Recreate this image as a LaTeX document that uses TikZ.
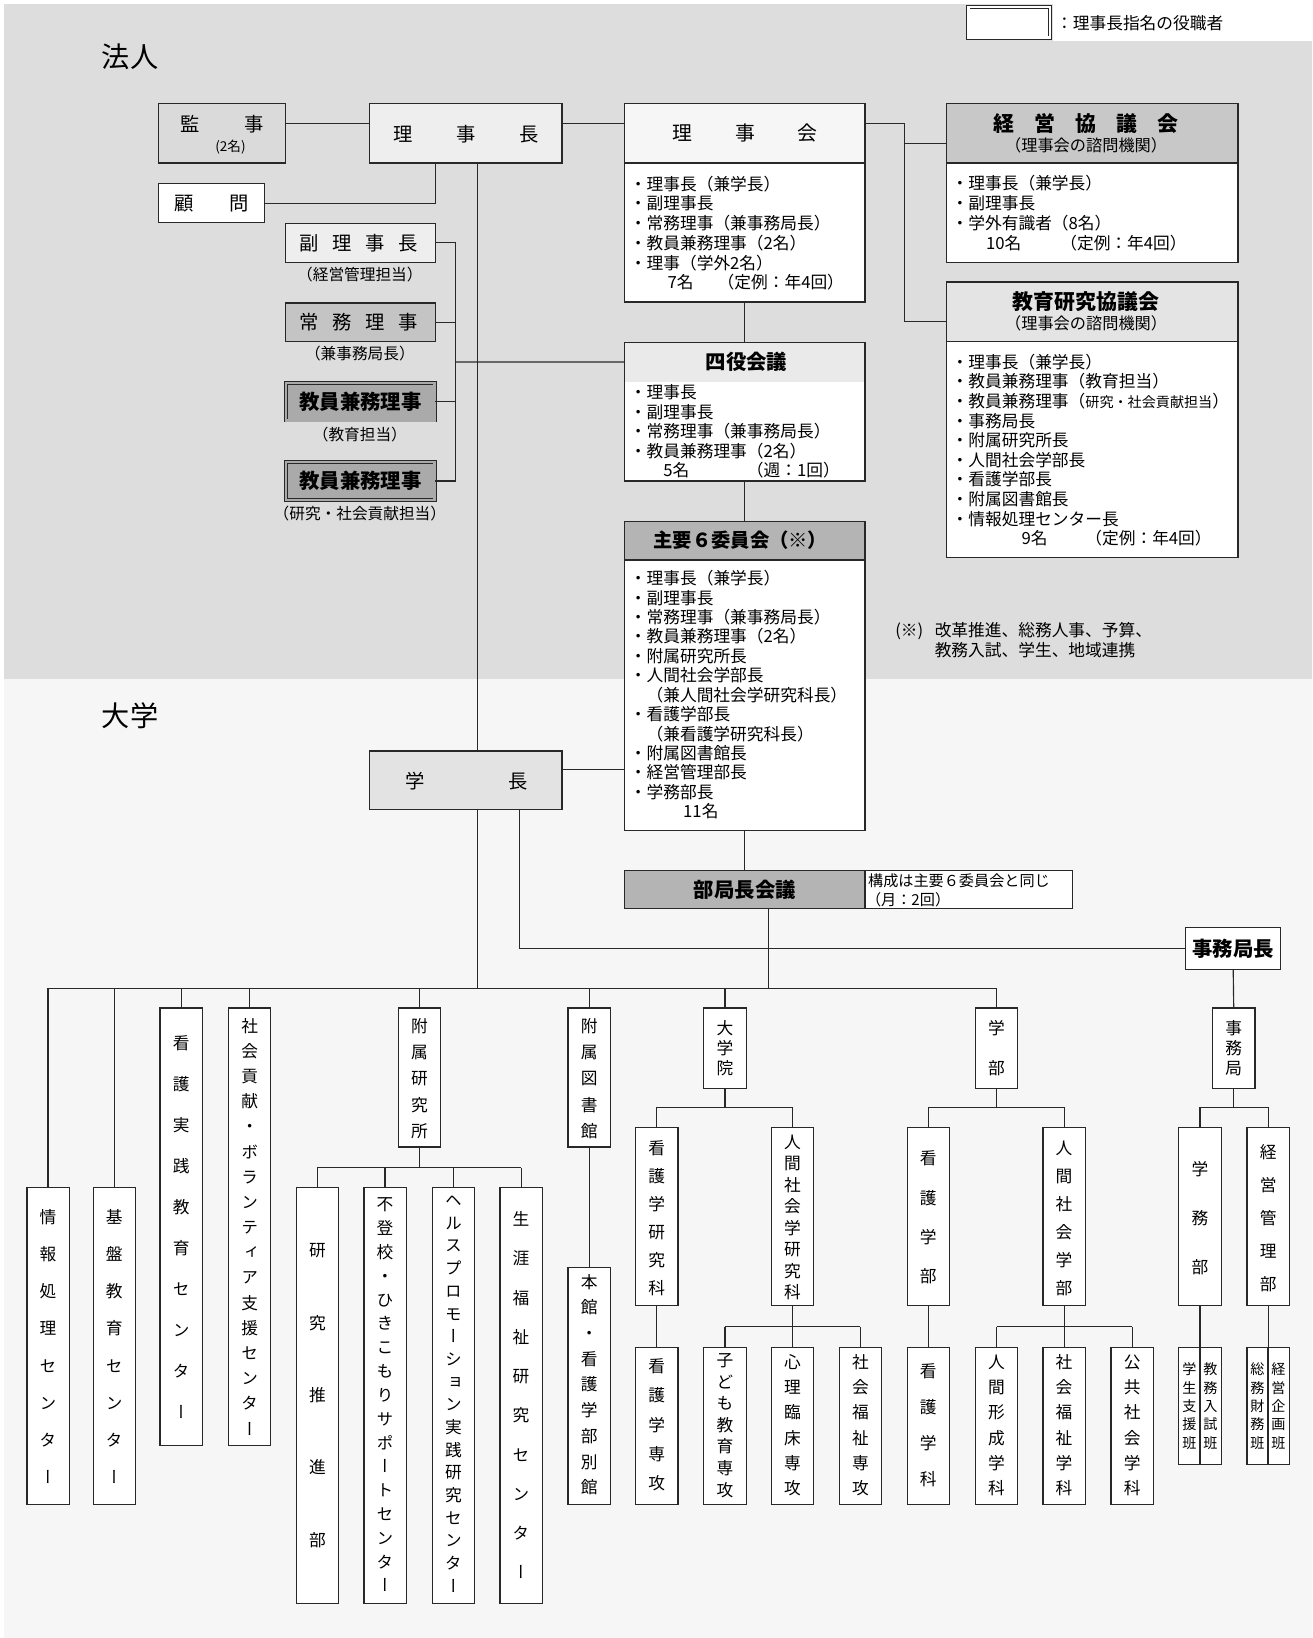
\documentclass[tikz,border=0pt]{standalone}
\usepackage{fontspec}
\setmainfont{Noto Sans CJK JP}
\newfontfamily\jpv[RawFeature=+vert]{Noto Sans CJK JP}
\usetikzlibrary{calc}
\definecolor{bgtop}{RGB}{220,221,220}
\definecolor{bgbot}{RGB}{245,246,245}
\definecolor{linec}{RGB}{40,40,40}
\definecolor{fkanji}{RGB}{218,218,218}
\definecolor{frijicho}{RGB}{238,238,238}
\definecolor{ffuku}{RGB}{238,238,238}
\definecolor{fjomu}{RGB}{196,196,196}
\definecolor{fkyoin}{RGB}{170,170,170}
\definecolor{frijikai}{RGB}{246,246,246}
\definecolor{fkeiei}{RGB}{200,200,200}
\definecolor{fkyoiku}{RGB}{228,228,228}
\definecolor{fyon}{RGB}{234,234,234}
\definecolor{fshuyo}{RGB}{180,180,180}
\definecolor{fgakucho}{RGB}{227,227,227}
\newcounter{tn}
\newcommand\fz[1]{\fontsize{#1pt}{#1pt}\selectfont}
\tikzset{
  box/.style={draw=linec,line width=1.2pt,inner sep=0pt,outer sep=0pt,rectangle},
  dbl/.style={box,line width=0.75pt,double=#1,double distance=2.2pt},
  conn/.style={draw=linec,line width=1.1pt},
  txt/.style={inner sep=0pt,outer sep=0pt,font=\fz{#1},text height={0.88*#1pt},text depth={0.12*#1pt}},
  btxt/.style={txt=#1,font=\bfseries\fz{#1}},
  vtxt/.style={txt=#1,font=\jpv\fz{#1}},
}
\newcommand\mkbox[6]{\node[#6,minimum width={(#4-#2)*1pt},minimum height={(#5-#3)*1pt}] (#1) at ({(#2+#4)/2},{(#3+#5)/2}) {};}
\newcommand\vbx[4]{\node[box,fill=white,minimum width=40.5pt,minimum height={(#4-#3)*1pt}] (#1) at (#2,{(#3+#4)/2}) {};}
\newcommand\tline[5][txt]{\stepcounter{tn}\node[#1=#2,anchor=west] (t\arabic{tn}) at (#3,#4) {#5};}
\newcommand\tcen[5][txt]{\stepcounter{tn}\node[#1=#2] (t\arabic{tn}) at (#3,#4) {#5};}
\newcommand\vcol[5][16]{\foreach \vch [count=\nn from 0] in {#5} {\stepcounter{tn}\node[vtxt=#1] (t\arabic{tn}) at (#2,{#3+\nn*#4}) {\vch};}}
\newcommand\mktree[5]{%
  \draw[conn] (#1.south) -- (#1.south |- 0,#2);
  \draw[conn] (#3.north |- 0,#2) -- (#4.north |- 0,#2);
  \foreach \chn in {#5} {\draw[conn] (\chn.north) -- (\chn.north |- 0,#2);}
}
\begin{document}
\begin{tikzpicture}[x=1pt,y=-1pt]
\useasboundingbox (0,0) rectangle (1256,1568);
% backgrounds
\fill[white] (0,0) rectangle (1256,1568);
\fill[bgtop] (4,4) rectangle (1256,650);
\fill[bgbot] (4,650) rectangle (1256,1568);
\fill[white] (1008,0) rectangle (1256,39);

% legend
\mkbox{legend}{927}{7}{1005}{36}{dbl=white,fill=white}
\tline{16}{1011}{22}{：理事長指名の役職者}

\tcen{27}{124.5}{54}{法人}
\tcen{27}{124.5}{685}{大学}

% upper boxes
\mkbox{kanji}{152}{99}{273}{156}{box,fill=fkanji}
\mkbox{rijicho}{354}{99}{538}{156}{box,fill=frijicho}
\mkbox{komon}{152}{176}{253}{213}{box,fill=white}
\mkbox{fuku}{273}{214}{417}{251}{box,fill=ffuku}
\mkbox{jomu}{273}{290}{417}{327}{box,fill=fjomu}
\mkbox{kyoin1}{274}{366.5}{416}{402.5}{dbl=fkyoin,fill=fkyoin}
\mkbox{kyoin2}{274}{442.5}{416}{478.5}{dbl=fkyoin,fill=fkyoin}
\mkbox{rijikaiH}{598}{99}{828}{156}{box,fill=frijikai}
\mkbox{rijikaiB}{598}{156}{828}{289}{box,fill=white}
\mkbox{keieiH}{906}{99}{1185}{156}{box,fill=fkeiei}
\mkbox{keieiB}{906}{156}{1185}{251}{box,fill=white}
\mkbox{kyoikuH}{906}{270}{1185}{327}{box,fill=fkyoiku}
\mkbox{kyoikuB}{906}{327}{1185}{534}{box,fill=white}
\mkbox{yonH}{598}{327.6}{828}{365.5}{box,draw=none,fill=fyon}
\mkbox{yonB}{598}{365.5}{828}{460.5}{box,draw=none,fill=white}
\draw[box] (yonH.north west) rectangle (yonB.south east);
\mkbox{shuyoH}{598}{499}{828}{536}{box,fill=fshuyo}
\mkbox{shuyoB}{598}{536}{828}{795}{box,fill=white}
\mkbox{gakucho}{354}{719}{538}{775}{box,fill=fgakucho}
\mkbox{bukyoku}{598}{833}{828}{870}{box,fill=fshuyo}
\mkbox{bknote}{828}{833}{1027}{870}{box,fill=white}
\mkbox{jkc}{1135}{888}{1226}{928}{box,fill=white}

% lower boxes
\vbx{joho}{46}{1137}{1440}
\vbx{kiban}{109.4}{1137}{1440}
\vbx{kjissen}{173.5}{965}{1384}
\vbx{shakai}{239}{965}{1384}
\vbx{fken}{401.5}{965}{1098}
\vbx{ftosho}{564}{965}{1098}
\vbx{daigakuin}{694}{965}{1042}
\vbx{gakubu}{954}{965}{1042}
\vbx{jimukyoku}{1181}{965}{1042}
\vbx{kensuishin}{303.8}{1137}{1535}
\vbx{futoko}{368.6}{1137}{1535}
\vbx{health}{434}{1137}{1535}
\vbx{shogai}{498.8}{1137}{1535}
\vbx{honkan}{564}{1213}{1440}
\vbx{kgken}{628.7}{1079}{1250}
\vbx{nsken}{758.7}{1079}{1250}
\vbx{kangobu}{888.6}{1079}{1250}
\vbx{nsbu}{1018.6}{1079}{1250}
\vbx{gakumu}{1148.7}{1079}{1250}
\vbx{keieibu}{1213.9}{1079}{1250}
\vbx{kgsenko}{628.7}{1290}{1440}
\vbx{kodomo}{694}{1290}{1440}
\vbx{shinri}{758.7}{1290}{1440}
\vbx{fukushisenko}{823.7}{1290}{1440}
\vbx{kangoka}{888.6}{1290}{1440}
\vbx{ningen}{954}{1290}{1440}
\vbx{fukushika}{1018.6}{1290}{1440}
\vbx{kokyo}{1083.8}{1290}{1440}
\vbx{gakumuS}{1148.7}{1290}{1402}
\vbx{keieiS}{1213.9}{1290}{1402}
\draw[box] (gakumuS.north) -- (gakumuS.south);
\draw[box] (keieiS.north) -- (keieiS.south);

% connectors (upper)
\draw[conn] (kanji.east |- 0,118) -- (rijicho.west |- 0,118);
\draw[conn] (rijicho.east |- 0,118) -- (rijikaiH.west |- 0,118);
\draw[conn] (rijicho.south -| 417,0) |- (komon.east);
\draw[conn] (rijicho.south -| 457,0) -- (gakucho.north -| 457,0);
\coordinate (barL) at (46,946);
\coordinate (barR) at (954,946);
\draw[conn] (gakucho.south -| 457,0) -- (barL -| 457,0);
\draw[conn] (barL) -- (barR);
\draw[conn] (fuku.east) -| (436,460.5) -- (kyoin2.east);
\draw[conn] (jomu.east) -- (jomu.east -| 436,0);
\draw[conn] (kyoin1.east) -- (kyoin1.east -| 436,0);
\draw[conn] (436,346.5) -- (yonH.west);
\draw[conn] (rijikaiH.east |- 0,118) -| (866,308) -- (kyoikuH.west |- 0,308);
\draw[conn] (866,137) -- (keieiH.west |- 0,137);
\draw[conn] (rijikaiB.south) -- (yonH.north);
\draw[conn] (yonB.south) -- (shuyoH.north);
\draw[conn] (shuyoB.south) -- (bukyoku.north);
\draw[conn] (gakucho.east |- 0,737) -- (shuyoB.west |- 0,737);
\draw[conn] (gakucho.south -| 497,0) |- (jkc.west);
\coordinate (bkd) at (736,946);
\draw[conn] (bukyoku.south -| bkd) -- (bkd);
\draw[conn] (jkc.south) -- (jimukyoku.north);
\foreach \nd in {joho,kiban,kjissen,shakai,fken,ftosho,daigakuin,gakubu} {\draw[conn] (\nd.north) -- (\nd.north |- barL);}

% connectors (lower)
\mktree{fken}{1117.7}{kensuishin}{shogai}{kensuishin,futoko,health,shogai}
\mktree{daigakuin}{1060}{kgken}{nsken}{kgken,nsken}
\mktree{nsken}{1270}{kodomo}{fukushisenko}{kodomo,shinri,fukushisenko}
\mktree{gakubu}{1060}{kangobu}{nsbu}{kangobu,nsbu}
\mktree{nsbu}{1270}{ningen}{kokyo}{ningen,fukushika,kokyo}
\mktree{jimukyoku}{1060}{gakumu}{keieibu}{gakumu,keieibu}
\draw[conn] (ftosho.south) -- (honkan.north);
\draw[conn] (kgken.south) -- (kgsenko.north);
\draw[conn] (kangobu.south) -- (kangoka.north);
\draw[conn] (gakumu.south) -- (gakumuS.north);
\draw[conn] (keieibu.south) -- (keieiS.north);

% texts upper
\tcen{18.5}{212.7}{118.7}{監\hspace{42pt}事}
\tcen{13}{220.6}{140}{(2名)}
\tcen{18.5}{446.2}{128.6}{理\hspace{41.5pt}事\hspace{41.5pt}長}
\tcen{18.5}{202.5}{194.5}{顧\hspace{34pt}問}
\tcen{18.5}{343.4}{232.5}{副\hspace{13pt}理\hspace{13pt}事\hspace{13pt}長}
\tcen{15}{344.5}{262.5}{（経営管理担当）}
\tcen{18.5}{343.4}{308.5}{常\hspace{13pt}務\hspace{13pt}理\hspace{13pt}事}
\tcen{15}{344.5}{338}{（兼事務局長）}
\tcen[btxt]{19.5}{345}{384.5}{教員兼務理事}
\tcen{15}{344.5}{416}{（教育担当）}
\tcen[btxt]{19.5}{345}{460.5}{教員兼務理事}
\tcen{15}{344.5}{491.8}{（研究・社会貢献担当）}

\tcen{19}{713.3}{127.5}{理\hspace{41pt}事\hspace{41pt}会}
\tline{16}{603}{176}{・理事長（兼学長）}
\tline{16}{603}{194.8}{・副理事長}
\tline{16}{603}{213.5}{・常務理事（兼事務局長）}
\tline{16}{603}{232.6}{・教員兼務理事（2名）}
\tline{16}{603}{251.5}{・理事（学外2名）}
\tline{16}{639}{270.2}{7名}
\tline{16}{687}{270.2}{（定例：年4回）}

\tcen[btxt]{20}{1039.7}{118.6}{経\hspace{19.3pt}営\hspace{19.3pt}協\hspace{19.3pt}議\hspace{19.3pt}会}
\tcen{15.5}{1039.7}{139}{（理事会の諮問機関）}
\tline{16}{911}{175.3}{・理事長（兼学長）}
\tline{16}{911}{194.8}{・副理事長}
\tline{16}{911}{213.6}{・学外有識者（8名）}
\tline{16}{944}{232.6}{10名}
\tline{16}{1015}{232.6}{（定例：年4回）}

\tcen[btxt]{20}{1039.5}{288.6}{教育研究協議会}
\tcen{15.5}{1039.7}{310}{（理事会の諮問機関）}
\tline{16}{911}{346.5}{・理事長（兼学長）}
\tline{16}{911}{365.25}{・教員兼務理事（教育担当）}
\tline{16}{911}{384}{・教員兼務理事（{\fz{13.5}研究・社会貢献担当}）}
\tline{16}{911}{402.75}{・事務局長}
\tline{16}{911}{421.5}{・附属研究所長}
\tline{16}{911}{440.25}{・人間社会学部長}
\tline{16}{911}{459}{・看護学部長}
\tline{16}{911}{477.75}{・附属図書館長}
\tline{16}{911}{496.5}{・情報処理センター長}
\tline{16}{978}{515.25}{9名}
\tline{16}{1039}{515.25}{（定例：年4回）}

\tcen[btxt]{19.5}{714.6}{346.5}{四役会議}
\tline{16}{603}{375.4}{・理事長}
\tline{16}{603}{394.2}{・副理事長}
\tline{16}{603}{412.8}{・常務理事（兼事務局長）}
\tline{16}{603}{431.4}{・教員兼務理事（2名）}
\tline{16}{635}{450.3}{5名}
\tline{16}{715}{450.3}{（週：1回）}

\tcen[btxt]{18.5}{708.7}{517}{主要６委員会（※）}
\tline{16}{603}{553.6}{・理事長（兼学長）}
\tline{16}{603}{572.2}{・副理事長}
\tline{16}{603}{590.8}{・常務理事（兼事務局長）}
\tline{16}{603}{609.4}{・教員兼務理事（2名）}
\tline{16}{603}{628}{・附属研究所長}
\tline{16}{603}{646.6}{・人間社会学部長}
\tline{16}{619}{665.2}{（兼人間社会学研究科長）}
\tline{16}{603}{683.8}{・看護学部長}
\tline{16}{619}{702.4}{（兼看護学研究科長）}
\tline{16}{603}{721}{・附属図書館長}
\tline{16}{603}{739.6}{・経営管理部長}
\tline{16}{603}{758.2}{・学務部長}
\tline{16}{654}{776.8}{11名}

\tline{16}{857}{603}{(※)}
\tline{16}{894.8}{603}{改革推進、総務人事、予算、}
\tline{16}{894.8}{622}{教務入試、学生、地域連携}

\tcen{18.5}{446.3}{748}{学\hspace{80pt}長}
\tcen[btxt]{19.5}{713}{851.5}{部局長会議}
\tline{14.5}{831}{843.5}{構成は主要６委員会と同じ}
\tline{14.5}{829}{861}{（月：2回）}
\tcen[btxt]{19.5}{1180.5}{908}{事務局長}

% vertical texts
\vcol{46}{1165}{35.6}{情,報,処,理,セ,ン,タ,ー}
\vcol{109.4}{1165}{35.6}{基,盤,教,育,セ,ン,タ,ー}
\vcol{173.5}{998.5}{39.3}{看,護,実,践,教,育,セ,ン,タ,ー}
\vcol{239}{982}{24.1}{社,会,貢,献,・,ボ,ラ,ン,テ,ィ,ア,支,援,セ,ン,タ,ー}
\vcol{401.5}{982}{25.2}{附,属,研,究,所}
\vcol{564}{982}{25.2}{附,属,図,書,館}
\vcol{303.8}{1197}{69.3}{研,究,推,進,部}
\vcol{368.6}{1153}{22.8}{不,登,校,・,ひ,き,こ,も,り,サ,ポ,ー,ト,セ,ン,タ,ー}
\vcol{434}{1149}{21.7}{ヘ,ル,ス,プ,ロ,モ,ー,シ,ョ,ン,実,践,研,究,セ,ン,タ,ー}
\vcol{498.8}{1167}{37.6}{生,涯,福,祉,研,究,セ,ン,タ,ー}
\vcol{564}{1227}{24.6}{本,館,・,看,護,学,部,別,館}
\vcol{694}{984}{19.4}{大,学,院}
\vcol{954}{984}{38.7}{学,部}
\vcol{1181}{984}{19.4}{事,務,局}
\vcol{628.7}{1099}{26.8}{看,護,学,研,究,科}
\vcol{758.7}{1093}{20.6}{人,間,社,会,学,研,究,科}
\vcol{888.6}{1109}{37.5}{看,護,学,部}
\vcol{1018.6}{1099}{26.8}{人,間,社,会,学,部}
\vcol{1148.7}{1119}{47}{学,務,部}
\vcol{1213.9}{1103}{31.5}{経,営,管,理,部}
\vcol{628.7}{1307.6}{28.1}{看,護,学,専,攻}
\vcol{694}{1302}{20.7}{子,ど,も,教,育,専,攻}
\vcol{758.7}{1304}{24.1}{心,理,臨,床,専,攻}
\vcol{823.7}{1304}{24.1}{社,会,福,祉,専,攻}
\vcol{888.6}{1313}{34.3}{看,護,学,科}
\vcol{954}{1304}{24.1}{人,間,形,成,学,科}
\vcol{1018.6}{1304}{24.1}{社,会,福,祉,学,科}
\vcol{1083.8}{1304}{24.1}{公,共,社,会,学,科}
\vcol[13.5]{1138.6}{1311}{17.5}{学,生,支,援,班}
\vcol[13.5]{1158.6}{1311}{17.5}{教,務,入,試,班}
\vcol[13.5]{1203.6}{1311}{17.5}{総,務,財,務,班}
\vcol[13.5]{1223.8}{1311}{17.5}{経,営,企,画,班}
\end{tikzpicture}
\end{document}
